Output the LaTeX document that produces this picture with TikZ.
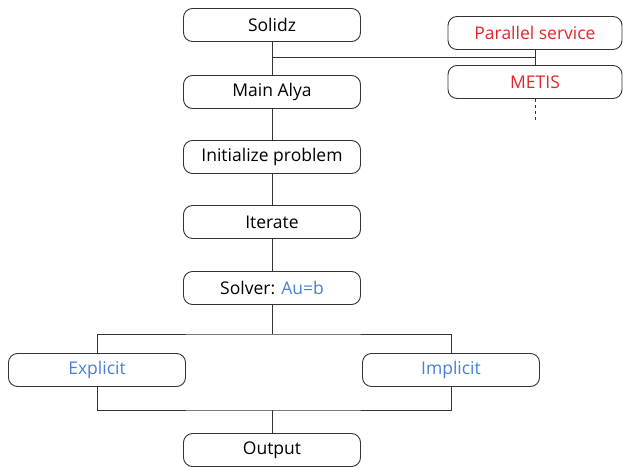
\documentclass[tikz,border=0pt]{standalone}
\usepackage{fontspec}
\setmainfont{Open Sans}
\usetikzlibrary{calc}

\definecolor{parred}{RGB}{228,38,42}
\definecolor{solblue}{RGB}{72,128,212}

\tikzset{
    stepbox/.style={draw=black!80, line width=0.9pt, rounded corners=9pt,
        minimum width=177pt, minimum height=33pt, inner sep=0pt,
        font=\fontsize{17.5}{20}\selectfont},
    link/.style={draw=black!80, line width=0.9pt}
}

\begin{document}
\begin{tikzpicture}[x=1pt,y=-1pt]
    \useasboundingbox (0,0) rectangle (623,470);

    % Main column
    \node[stepbox] (solidz) at (272,25) {Solidz};
    \node[stepbox] (alya) at (272,92) {Main Alya};
    \node[stepbox] (init) at (272,157) {Initialize problem};
    \node[stepbox] (iter) at (272,222) {Iterate};
    \node[stepbox] (solver) at (272,288) {Solver: \textcolor{solblue}{Au=b}};

    % Parallel services on the right
    \node[stepbox, text=parred, minimum width=174pt] (par) at (535,33) {Parallel service};
    \node[stepbox, text=parred, minimum width=174pt] (metis) at (535,82) {METIS};

    % Two kinds of solver
    \node[stepbox, text=solblue] (expl) at (97,370) {Explicit};
    \node[stepbox, text=solblue] (impl) at (451,370) {Implicit};
    \node[stepbox] (out) at (272,450) {Output};

    % Junction points
    \coordinate (pj) at ($(par.south)!0.5!(metis.north)$);
    \coordinate (more) at ($(metis.south)+(0,24)$);
    \coordinate (split) at (272,334);
    \coordinate (join) at (272,410);

    % Connectors
    \draw[link] (solidz) -- (alya);
    \draw[link] (alya) -- (init);
    \draw[link] (init) -- (iter);
    \draw[link] (iter) -- (solver);
    \draw[link] (par) -- (metis);
    \draw[link] (pj) -- (pj -| alya.north);
    \draw[link, dash pattern=on 3pt off 3pt] (metis) -- (more);
    \draw[link] (solver) -- (split);
    \draw[link] (expl.north) |- (split) -| (impl.north);
    \draw[link] (expl.south) |- (join) -| (impl.south);
    \draw[link] (join) -- (out);
\end{tikzpicture}
\end{document}
